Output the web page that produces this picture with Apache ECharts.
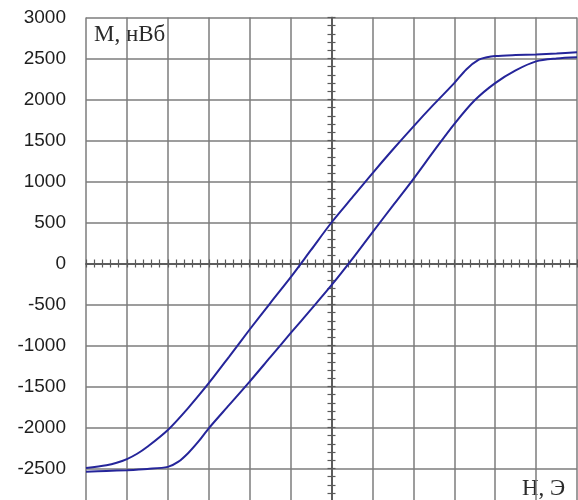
<!DOCTYPE html>
<html>
<head>
<meta charset="utf-8">
<script src="https://cdn.jsdelivr.net/npm/echarts@6/dist/echarts.min.js"></script>
<style>
  html, body { margin: 0; padding: 0; background: #fff; }
  #loop { width: 578px; height: 500px; }
</style>
</head>
<body>
<div id="loop"></div>
<script>
// field H (Oe) and moment M (nWb)
const hUpper = [-6, -5.5, -5.25, -5, -4.75, -4.5, -4, -3.5, -3, -2.5, -2, -1.5, -1, -0.5, 0, 0.5, 1, 1.5, 2, 2.5, 3, 3.3, 3.6, 3.8, 4, 4.5, 5, 5.5, 6];
const mUpper = [-2495, -2460, -2430, -2385, -2320, -2235, -2030, -1760, -1460, -1135, -805, -485, -170, 165, 500, 800, 1100, 1390, 1670, 1940, 2200, 2370, 2485, 2515, 2530, 2542, 2550, 2560, 2575];

const hLower = [-6, -5.5, -5, -4.5, -4, -3.75, -3.5, -3.25, -3, -2.5, -2, -1.5, -1, -0.5, 0, 0.5, 1, 1.5, 2, 2.5, 3, 3.5, 4, 4.5, 5, 5.5, 6];
const mLower = [-2540, -2530, -2520, -2505, -2480, -2420, -2310, -2170, -2010, -1725, -1440, -1145, -850, -560, -265, 50, 380, 705, 1030, 1370, 1700, 1990, 2200, 2355, 2465, 2500, 2515];

const hRange = [-6, 6];
const mRange = [-3000, 3000];
const mStep = 500;

const toPairs = (xs, ys) => xs.map((x, i) => [x, ys[i]]);

const gridColor = '#7c7c7c';
const axisColor = '#5a5a5a';
const curveColor = '#25259a';

// centre axes with ticks on both sides: one copy inside, one outside
function centreX (inside) {
  return {
    type: 'value', min: hRange[0], max: hRange[1], interval: 1,
    axisLine: { show: true, onZero: true, onZeroAxisIndex: 0, lineStyle: { color: axisColor, width: 1.5 } },
    axisTick: { show: true, inside: inside, length: 4, lineStyle: { color: axisColor, width: 1.2 } },
    minorTick: { show: true, splitNumber: 5, length: 4, lineStyle: { color: axisColor, width: 1.2 } },
    axisLabel: { show: false },
    splitLine: { show: false }
  };
}
function centreY (inside) {
  return {
    type: 'value', position: 'left', min: mRange[0], max: mRange[1], interval: mStep,
    axisLine: { show: true, onZero: true, onZeroAxisIndex: 0, lineStyle: { color: axisColor, width: 1.5 } },
    axisTick: { show: true, inside: inside, length: 4, lineStyle: { color: axisColor, width: 1.2 } },
    minorTick: { show: true, splitNumber: 5, length: 4, lineStyle: { color: axisColor, width: 1.2 } },
    axisLabel: { show: false },
    splitLine: { show: false }
  };
}

const chart = echarts.init(document.getElementById('loop'));
chart.setOption({
  animation: false,
  backgroundColor: '#fff',
  grid: { left: 86, top: 17.5, width: 491, height: 492, outerBoundsMode: 'none', containLabel: false },
  xAxis: [
    {
      type: 'value', min: hRange[0], max: hRange[1], interval: 1,
      axisLine: { show: false, onZero: false },
      axisTick: { show: false },
      axisLabel: { show: false },
      splitLine: { show: true, lineStyle: { color: gridColor, width: 1.5 } }
    },
    centreX(false),
    centreX(true)
  ],
  yAxis: [
    {
      type: 'value', position: 'left', min: mRange[0], max: mRange[1], interval: mStep,
      axisLine: { show: false, onZero: false },
      axisTick: { show: false },
      axisLabel: {
        show: true, margin: 20, color: '#1e1e1e', fontSize: 19,
        fontFamily: 'Liberation Sans, Arial, sans-serif',
        formatter: (v) => String(v)
      },
      splitLine: { show: true, lineStyle: { color: gridColor, width: 1.5 } }
    },
    centreY(false),
    centreY(true)
  ],
  graphic: [
    {
      type: 'text', left: 94, top: 23,
      style: { text: 'M, нВб', fill: '#2a2a2a', font: '23px "Liberation Serif", "Times New Roman", serif' }
    },
    {
      type: 'text', left: 522, top: 477,
      style: { text: 'H, Э', fill: '#2a2a2a', font: '23px "Liberation Serif", "Times New Roman", serif' }
    }
  ],
  series: [
    {
      name: 'upper', type: 'line', xAxisIndex: 0, yAxisIndex: 0,
      data: toPairs(hUpper, mUpper),
      smooth: 0.3, showSymbol: false,
      lineStyle: { color: curveColor, width: 2 }
    },
    {
      name: 'lower', type: 'line', xAxisIndex: 0, yAxisIndex: 0,
      data: toPairs(hLower, mLower),
      smooth: 0.3, showSymbol: false,
      lineStyle: { color: curveColor, width: 2 }
    }
  ]
});
</script>
</body>
</html>
